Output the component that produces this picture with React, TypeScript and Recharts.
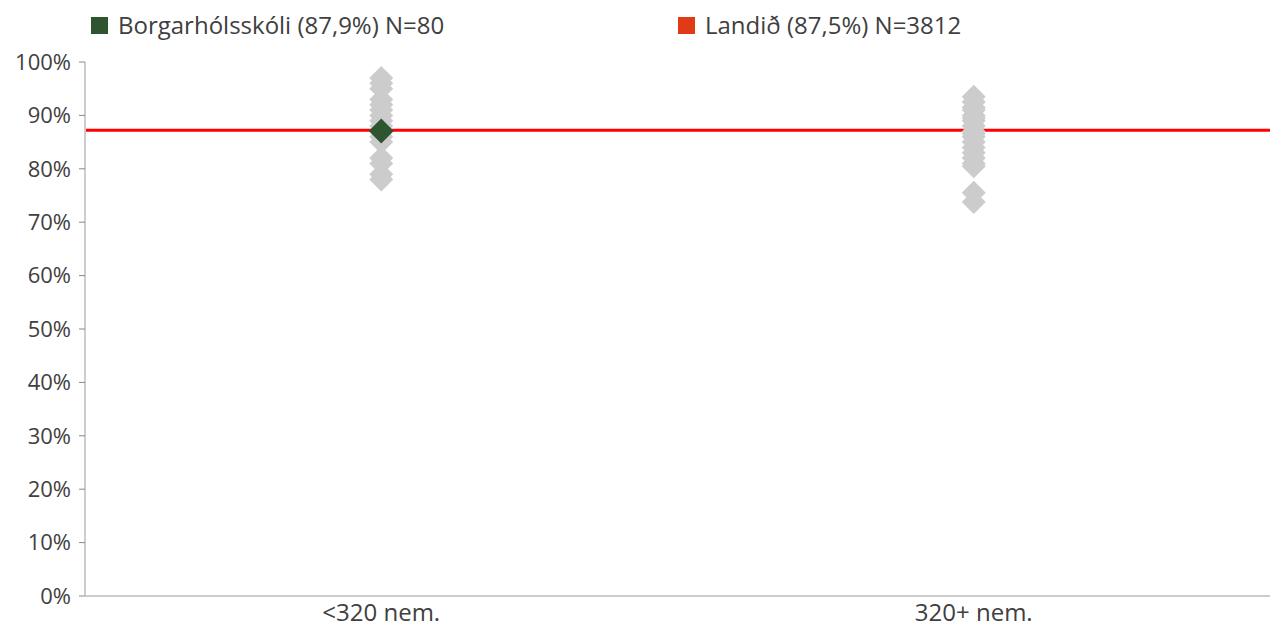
import React from "react";
import { ScatterChart, Scatter, XAxis, YAxis, ReferenceLine } from "recharts";

const categories = ["<320 nem.", "320+ nem."];
const smallSchoolValues = [97, 96, 95, 93, 92, 91, 90, 89, 88, 86, 85, 82, 81, 79, 78];
const largeSchoolValues = [93.5, 92.5, 91.5, 91, 90, 89.5, 89, 88, 87, 86.5, 86, 85, 84, 83, 82, 81, 80.5, 75.5, 73.8];
const schoolName = "Borgarhólsskóli (87,9%) N=80";
const schoolCategory = "<320 nem.";
const schoolValue = 87.1;
const nationalName = "Landið (87,5%) N=3812";
const nationalValue = 87.2;
const yTicks = [0, 10, 20, 30, 40, 50, 60, 70, 80, 90, 100];

const otherSchools = [
  ...smallSchoolValues.map((v) => ({ cat: categories[0], v })),
  ...largeSchoolValues.map((v) => ({ cat: categories[1], v })),
];
const thisSchool = [{ cat: schoolCategory, v: schoolValue }];

const FONT = "'Open Sans', sans-serif";
const FS = 24;
const FS_Y = 22;

const makeDiamond = (half: number, fill: string) => (props: any) => {
  const { cx, cy } = props;
  if (cx == null || cy == null) return <g />;
  return (
    <polygon
      points={`${cx},${cy - half} ${cx + half},${cy} ${cx},${cy + half} ${cx - half},${cy}`}
      fill={fill}
    />
  );
};

export default function App() {
  return (
    <div style={{ position: "absolute", left: 0, top: 0, width: 1277, height: 628, background: "#fff", fontFamily: FONT }}>
      <div style={{ position: "absolute", left: 91, top: 8, display: "flex", alignItems: "center", fontSize: FS, color: "#404040", whiteSpace: "nowrap", lineHeight: "34px" }}>
        <span style={{ display: "inline-block", width: 17, height: 17, background: "#2f5530", marginRight: 10 }} />
        <span>{schoolName}</span>
      </div>
      <div style={{ position: "absolute", left: 678, top: 8, display: "flex", alignItems: "center", fontSize: FS, color: "#404040", whiteSpace: "nowrap", lineHeight: "34px" }}>
        <span style={{ display: "inline-block", width: 17, height: 17, background: "#e03a17", marginRight: 10 }} />
        <span>{nationalName}</span>
      </div>
      <ScatterChart width={1277} height={628} margin={{ top: 62, right: 7, bottom: 0, left: 0 }} style={{ fontFamily: FONT }}>
        <XAxis
          dataKey="cat"
          type="category"
          allowDuplicatedCategory={false}
          tickLine={false}
          axisLine={{ stroke: "#cccccc", strokeWidth: 2 }}
          tick={{ fill: "#404040", fontSize: FS, fontFamily: FONT }}
          fontSize={FS}
          tickMargin={2}
          height={32}
        />
        <YAxis
          dataKey="v"
          type="number"
          domain={[0, 100]}
          ticks={yTicks}
          interval={0}
          tickFormatter={(v: number) => `${v}%`}
          axisLine={{ stroke: "#cccccc", strokeWidth: 2 }}
          tickLine={{ stroke: "#888888" }}
          tickSize={6}
          tickMargin={8}
          width={85}
          fontSize={FS_Y}
          tick={{ fill: "#404040", fontSize: FS_Y, fontFamily: FONT }}
        />
        <ReferenceLine y={nationalValue} stroke="#ff0000" strokeWidth={3} ifOverflow="extendDomain" />
        <Scatter data={otherSchools} shape={makeDiamond(12, "#cccccc")} isAnimationActive={false} />
        <Scatter data={thisSchool} shape={makeDiamond(12.5, "#2f5530")} isAnimationActive={false} />
      </ScatterChart>
    </div>
  );
}
